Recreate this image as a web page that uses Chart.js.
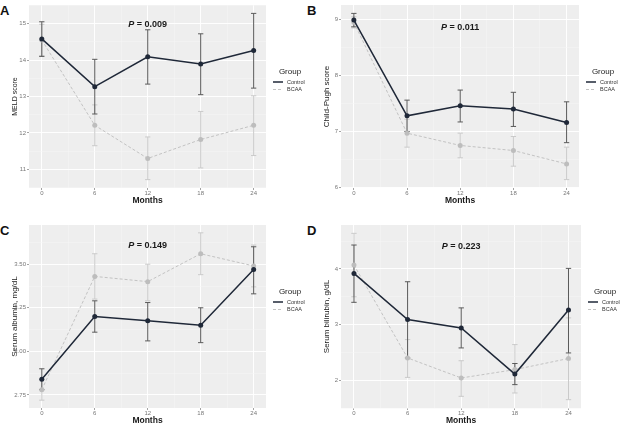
<!DOCTYPE html>
<html>
<head>
<meta charset="utf-8">
<script src="https://cdn.jsdelivr.net/npm/chart.js@4.4.1/dist/chart.umd.min.js"></script>
<style>
    body { margin: 0; background: #fff; width: 624px; height: 424px; overflow: hidden; position: relative; font-family: "Liberation Sans", Arial, sans-serif; }
    canvas { position: absolute; }
    .tag { position: absolute; font-weight: bold; font-size: 13px; color: #111; }
</style>
</head>
<body>
<div class="tag" style="left:0px;top:3px;">A</div>
<div class="tag" style="left:307px;top:3px;">B</div>
<div class="tag" style="left:0px;top:223px;">C</div>
<div class="tag" style="left:307px;top:223px;">D</div>
<canvas id="chartA" width="312" height="212" style="left:0px;top:0px;"></canvas>
<canvas id="chartB" width="312" height="212" style="left:312px;top:0px;"></canvas>
<canvas id="chartC" width="312" height="212" style="left:0px;top:220px;"></canvas>
<canvas id="chartD" width="312" height="212" style="left:312px;top:220px;"></canvas>
<script>
// Time points (months)
const months = [0, 6, 12, 18, 24];
const groups = ['Control', 'BCAA'];

// A - MELD score
const meldControl = [14.58, 13.27, 14.09, 13.89, 14.26];
const meldControlLo = [14.10, 12.52, 13.34, 13.05, 13.23];
const meldControlHi = [15.05, 14.02, 14.83, 14.72, 15.28];
const meldBcaa = [14.55, 12.21, 11.30, 11.82, 12.21];
const meldBcaaLo = [14.12, 11.65, 10.72, 11.04, 11.38];
const meldBcaaHi = [14.98, 12.77, 11.89, 12.59, 13.02];
const meldTicks = [11, 12, 13, 14, 15];

// B - Child-Pugh score
const cpControl = [8.99, 7.28, 7.46, 7.40, 7.16];
const cpControlLo = [8.87, 7.00, 7.17, 7.09, 6.80];
const cpControlHi = [9.11, 7.56, 7.74, 7.70, 7.53];
const cpBcaa = [8.95, 6.97, 6.75, 6.66, 6.42];
const cpBcaaLo = [8.85, 6.72, 6.53, 6.38, 6.14];
const cpBcaaHi = [9.05, 7.22, 6.97, 6.91, 6.72];
const cpTicks = [6, 7, 8, 9];

// C - Serum albumin
const albControl = [2.84, 3.20, 3.175, 3.15, 3.47];
const albControlLo = [2.78, 3.11, 3.06, 3.05, 3.33];
const albControlHi = [2.90, 3.29, 3.28, 3.25, 3.60];
const albBcaa = [2.78, 3.43, 3.40, 3.56, 3.49];
const albBcaaLo = [2.72, 3.30, 3.29, 3.44, 3.37];
const albBcaaHi = [2.84, 3.56, 3.50, 3.68, 3.61];
const albTicks = [2.75, 3.00, 3.25, 3.50];

// D - Serum bilirubin
const bilControl = [3.92, 3.09, 2.94, 2.11, 3.26];
const bilControlLo = [3.40, 2.40, 2.58, 1.92, 2.49];
const bilControlHi = [4.43, 3.77, 3.30, 2.30, 4.01];
const bilBcaa = [4.07, 2.40, 2.04, 2.19, 2.39];
const bilBcaaLo = [3.50, 2.05, 1.71, 1.77, 1.65];
const bilBcaaHi = [4.64, 2.73, 2.35, 2.64, 3.12];
const bilTicks = [2, 3, 4];

// P values
const pValues = ['0.009', '0.011', '0.149', '0.223'];

const FONT = '"Liberation Sans", Arial, sans-serif';
const CONTROL_COLOR = '#1f2838';
const BCAA_COLOR = '#c3c3c3';

// Draws the error bars behind the lines
const errorBarPlugin = {
    id: 'errorBars',
    beforeDatasetsDraw(chart) {
        const ctx = chart.ctx;
        const x = chart.scales.x;
        const y = chart.scales.y;
        // BCAA first so control sits on top
        for (let d = chart.data.datasets.length - 1; d >= 0; d--) {
            const ds = chart.data.datasets[d];
            ctx.save();
            ctx.strokeStyle = ds.errColor;
            ctx.lineWidth = 1;
            ds.data.forEach((p, i) => {
                const px = x.getPixelForValue(p.x);
                const cap = Math.abs(x.getPixelForValue(p.x + 0.3) - px);
                const top = y.getPixelForValue(ds.errHi[i]);
                const bot = y.getPixelForValue(ds.errLo[i]);
                ctx.beginPath();
                ctx.moveTo(px, top); ctx.lineTo(px, bot);
                ctx.moveTo(px - cap, top); ctx.lineTo(px + cap, top);
                ctx.moveTo(px - cap, bot); ctx.lineTo(px + cap, bot);
                ctx.stroke();
            });
            ctx.restore();
        }
    }
};

// P value annotation and the legend at the right
const annotationPlugin = {
    id: 'annotation',
    afterDraw(chart) {
        const ctx = chart.ctx;
        const opts = chart.options.plugins.annotation;
        const px = chart.scales.x.getPixelForValue(12);
        const py = chart.scales.y.getPixelForValue(opts.pY);
        ctx.save();
        ctx.fillStyle = '#1a1a1a';
        ctx.textBaseline = 'middle';
        ctx.font = 'italic bold 9px ' + FONT;
        const wP = ctx.measureText('P').width;
        ctx.font = 'bold 9px ' + FONT;
        const rest = ' = ' + opts.p;
        const wR = ctx.measureText(rest).width;
        let sx = px - (wP + wR) / 2;
        ctx.font = 'italic bold 9px ' + FONT;
        ctx.fillText('P', sx, py);
        ctx.font = 'bold 9px ' + FONT;
        ctx.fillText(rest, sx + wP, py);

        // legend
        const lx = chart.chartArea.right + 7;
        ctx.fillStyle = '#222';
        ctx.textAlign = 'center';
        ctx.font = '8px ' + FONT;
        ctx.fillText('Group', lx + 17, 72);
        ctx.textAlign = 'left';
        ctx.font = '5.5px ' + FONT;
        chart.data.datasets.forEach((ds, i) => {
            const ly = 82 + i * 7.5;
            ctx.strokeStyle = ds.borderColor;
            ctx.lineWidth = ds.borderWidth;
            ctx.setLineDash(ds.borderDash || []);
            ctx.beginPath();
            ctx.moveTo(lx, ly); ctx.lineTo(lx + 10, ly);
            ctx.stroke();
            ctx.setLineDash([]);
            ctx.fillStyle = '#333';
            ctx.fillText(ds.label, lx + 14, ly);
        });
        ctx.restore();
    }
};

// Panel background
const backgroundPlugin = {
    id: 'panelBg',
    beforeDraw(chart) {
        const a = chart.chartArea;
        chart.ctx.save();
        chart.ctx.fillStyle = '#eeeeee';
        chart.ctx.fillRect(a.left, a.top, a.right - a.left, a.bottom - a.top);
        chart.ctx.restore();
    }
};

function toPoints(values) {
    return values.map((v, i) => ({ x: months[i], y: v }));
}

function midpoints(ticks, min, max) {
    const step = ticks[1] - ticks[0];
    const out = [];
    for (let v = ticks[0] - step / 2; v <= max; v += step) {
        if (v >= min) out.push(v);
    }
    return out;
}

function makePanel(id, cfg) {
    const xMajor = months;
    const xMinor = [3, 9, 15, 21];
    const yMinor = midpoints(cfg.ticks, cfg.min, cfg.max);
    const isMajorY = v => cfg.ticks.some(t => Math.abs(t - v) < 1e-6);
    const isMajorX = v => xMajor.includes(v);

    new Chart(document.getElementById(id).getContext('2d'), {
        type: 'line',
        data: {
            datasets: [{
                label: groups[0],
                data: toPoints(cfg.control),
                errLo: cfg.controlLo,
                errHi: cfg.controlHi,
                errColor: '#5a5a5a',
                borderColor: CONTROL_COLOR,
                backgroundColor: CONTROL_COLOR,
                borderWidth: 1.5,
                pointRadius: 2.5,
                pointBorderWidth: 0,
                tension: 0
            }, {
                label: groups[1],
                data: toPoints(cfg.bcaa),
                errLo: cfg.bcaaLo,
                errHi: cfg.bcaaHi,
                errColor: '#cacaca',
                borderColor: BCAA_COLOR,
                backgroundColor: '#bdbdbd',
                borderWidth: 1,
                borderDash: [3, 2],
                pointRadius: 2.5,
                pointBorderWidth: 0,
                tension: 0
            }]
        },
        options: {
            responsive: false,
            animation: false,
            layout: { padding: { top: 5, right: cfg.padRight, left: 0, bottom: 0 } },
            plugins: {
                legend: { display: false },
                tooltip: { enabled: false },
                annotation: { p: cfg.p, pY: cfg.pY }
            },
            scales: {
                x: {
                    type: 'linear',
                    min: -1.45,
                    max: 25.4,
                    afterBuildTicks: s => { s.ticks = xMajor.concat(xMinor).map(v => ({ value: v })); },
                    afterFit: s => { s.height = 24; },
                    border: { display: false },
                    grid: {
                        color: c => isMajorX(c.tick.value) ? '#ffffff' : '#f6f6f6',
                        lineWidth: c => isMajorX(c.tick.value) ? 0.9 : 0.5,
                        tickColor: c => isMajorX(c.tick.value) ? '#999' : 'rgba(0,0,0,0)',
                        tickLength: 2
                    },
                    ticks: {
                        autoSkip: false,
                        maxRotation: 0,
                        padding: 0,
                        color: '#777',
                        font: { family: FONT, size: 6 },
                        callback: v => isMajorX(v) ? String(v) : ''
                    },
                    title: {
                        display: true,
                        text: 'Months',
                        color: '#1a1a1a',
                        font: { family: FONT, size: 8.5, weight: 'bold' },
                        padding: { top: 0, bottom: 6 }
                    }
                },
                y: {
                    min: cfg.min,
                    max: cfg.max,
                    afterBuildTicks: s => { s.ticks = cfg.ticks.concat(yMinor).map(v => ({ value: v })); },
                    afterFit: s => { s.width = 29; },
                    border: { display: false },
                    grid: {
                        color: c => isMajorY(c.tick.value) ? '#ffffff' : '#f6f6f6',
                        lineWidth: c => isMajorY(c.tick.value) ? 0.9 : 0.5,
                        tickColor: c => isMajorY(c.tick.value) ? '#999' : 'rgba(0,0,0,0)',
                        tickLength: 2
                    },
                    ticks: {
                        autoSkip: false,
                        padding: 1,
                        color: '#777',
                        font: { family: FONT, size: 6 },
                        callback: v => isMajorY(v) ? (cfg.decimals ? v.toFixed(cfg.decimals) : String(v)) : ''
                    },
                    title: {
                        display: true,
                        text: cfg.title,
                        color: '#1a1a1a',
                        font: { family: FONT, size: cfg.titleSize },
                        padding: { top: 10.5 - cfg.titleSize * 0.6 + 4.5, bottom: 0 }
                    }
                }
            }
        },
        plugins: [backgroundPlugin, errorBarPlugin, annotationPlugin]
    });
}

makePanel('chartA', {
    control: meldControl, controlLo: meldControlLo, controlHi: meldControlHi,
    bcaa: meldBcaa, bcaaLo: meldBcaaLo, bcaaHi: meldBcaaHi,
    ticks: meldTicks, min: 10.49, max: 15.51, title: 'MELD score', titleSize: 7,
    p: pValues[0], pY: 14.97, padRight: 46
});
makePanel('chartB', {
    control: cpControl, controlLo: cpControlLo, controlHi: cpControlHi,
    bcaa: cpBcaa, bcaaLo: cpBcaaLo, bcaaHi: cpBcaaHi,
    ticks: cpTicks, min: 5.99, max: 9.26, title: 'Child-Pugh score', titleSize: 8,
    p: pValues[1], pY: 8.86, padRight: 45
});
makePanel('chartC', {
    control: albControl, controlLo: albControlLo, controlHi: albControlHi,
    bcaa: albBcaa, bcaaLo: albBcaaLo, bcaaHi: albBcaaHi,
    ticks: albTicks, min: 2.675, max: 3.725, title: 'Serum albumin, mg/dL', titleSize: 8,
    p: pValues[2], pY: 3.61, padRight: 46, decimals: 2
});
makePanel('chartD', {
    control: bilControl, controlLo: bilControlLo, controlHi: bilControlHi,
    bcaa: bilBcaa, bcaaLo: bilBcaaLo, bcaaHi: bilBcaaHi,
    ticks: bilTicks, min: 1.5, max: 4.79, title: 'Serum bilirubin, g/dL', titleSize: 8,
    p: pValues[3], pY: 4.40, padRight: 43
});
</script>
</body>
</html>
